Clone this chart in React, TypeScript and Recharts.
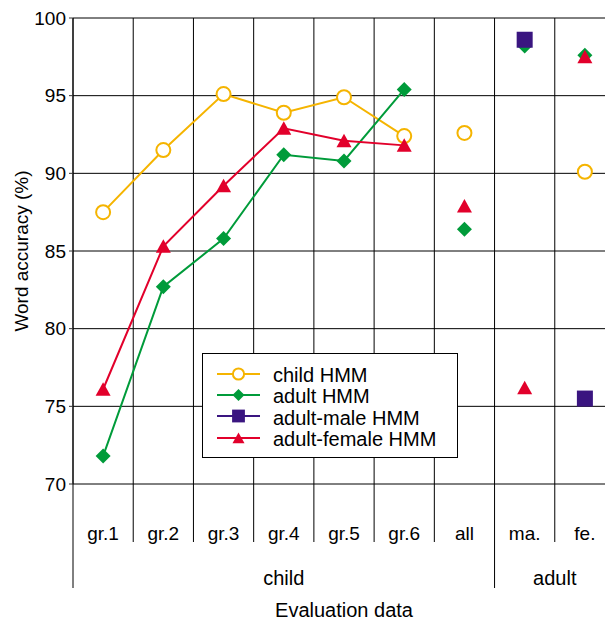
import React from 'react';
import { ComposedChart, Line, XAxis, YAxis, CartesianGrid, Legend, Label } from 'recharts';

const categories = ['gr.1', 'gr.2', 'gr.3', 'gr.4', 'gr.5', 'gr.6', 'all', 'ma.', 'fe.'];
const groups = [
  { name: 'child', size: 7 },
  { name: 'adult', size: 2 },
];
const connectedCount = 6;
const yTicks = [70, 75, 80, 85, 90, 95, 100];

const childHMM = [87.5, 91.5, 95.1, 93.9, 94.9, 92.4, 92.6, null, 90.1];
const adultHMM = [71.8, 82.7, 85.8, 91.2, 90.8, 95.4, 86.4, 98.2, 97.6];
const adultMaleHMM = [null, null, null, null, null, null, null, 98.6, 75.5];
const adultFemaleHMM = [76.1, 85.3, 89.2, 92.9, 92.1, 91.8, 87.9, 76.2, 97.5];

const series = [
  { key: 'child', name: 'child HMM', color: '#F5B400', shape: 'circle', values: childHMM },
  { key: 'adult', name: 'adult HMM', color: '#009B3A', shape: 'diamond', values: adultHMM },
  { key: 'male', name: 'adult-male HMM', color: '#3A1580', shape: 'square', values: adultMaleHMM },
  { key: 'female', name: 'adult-female HMM', color: '#E2002B', shape: 'triangle', values: adultFemaleHMM },
];

const data = categories.map((cat, i) => {
  const row: any = { cat };
  series.forEach((s) => {
    const v = s.values[i];
    row[s.key + 'Line'] = i < connectedCount ? v : null;
    row[s.key + 'Pt'] = i >= connectedCount ? v : null;
  });
  return row;
});

const W = 620;
const H = 622;
const M = { top: 18, right: 5, left: 0, bottom: 0 };
const Y_W = 73;
const X_H = 138;
const PLOT_W = W - M.left - M.right - Y_W;
const BAND = PLOT_W / categories.length;
const FONT = '"Liberation Sans", Arial, Helvetica, sans-serif';
const FS = 19;
const FS_T = 20;

function Marker({ shape, color, cx, cy, s = 1 }: any) {
  if (shape === 'circle') {
    return <circle cx={cx} cy={cy} r={7 * s} fill="#fff" stroke={color} strokeWidth={2} />;
  }
  if (shape === 'diamond') {
    const h = 7.5 * s;
    return <path d={`M${cx},${cy - h}L${cx + h},${cy}L${cx},${cy + h}L${cx - h},${cy}Z`} fill={color} />;
  }
  if (shape === 'square') {
    const h = 8 * s;
    return <rect x={cx - h} y={cy - h} width={2 * h} height={2 * h} fill={color} />;
  }
  const w = 7.5 * s;
  return <path d={`M${cx},${cy - 7 * s}L${cx + w},${cy + 6.5 * s}L${cx - w},${cy + 6.5 * s}Z`} fill={color} />;
}

const makeDot = (shape: string, color: string) => (props: any) => {
  const { cx, cy, index, value } = props;
  if (value == null || cx == null || cy == null || Number.isNaN(cy)) return <g key={`e${index}`} />;
  return (
    <g key={`d${index}`}>
      <Marker shape={shape} color={color} cx={cx} cy={cy} />
    </g>
  );
};

const groupStarts: Record<number, { name: string; size: number }> = {};
{
  let idx = 0;
  groups.forEach((g) => {
    groupStarts[idx] = g;
    idx += g.size;
  });
}

function CategoryTick(props: any) {
  const { x, y, payload, index } = props;
  const left = x - BAND / 2;
  const g = groupStarts[index];
  const isLast = index === categories.length - 1;
  return (
    <g>
      <text x={x} y={y + 56} textAnchor="middle" fontSize={FS} fontFamily={FONT} fill="#000">
        {payload.value}
      </text>
      {g ? (
        <>
          <line x1={left} x2={left} y1={y} y2={y + 104} stroke="#000" strokeWidth={1} />
          <text x={left + (g.size * BAND) / 2} y={y + 101} textAnchor="middle" fontSize={FS_T} fontFamily={FONT} fill="#000">
            {g.name}
          </text>
        </>
      ) : (
        <line x1={left} x2={left} y1={y} y2={y + 58} stroke="#000" strokeWidth={1} />
      )}
      {isLast && <line x1={x + BAND / 2} x2={x + BAND / 2} y1={y} y2={y + 104} stroke="#000" strokeWidth={1} />}
    </g>
  );
}

function LegendBox() {
  return (
    <div
      style={{
        border: '1px solid #000',
        background: '#fff',
        boxSizing: 'border-box',
        width: 256,
        height: 105,
        padding: '11px 0 0 14px',
        fontFamily: FONT,
        fontSize: 20,
        lineHeight: '21.3px',
        color: '#000',
      }}
    >
      {series.map((s) => (
        <div key={s.key} style={{ display: 'flex', alignItems: 'center', height: 21.3, whiteSpace: 'nowrap' }}>
          <svg width={44} height={18} style={{ marginRight: 12, position: 'relative', top: -2, overflow: 'visible' }}>
            <line x1={0} x2={43} y1={9} y2={9} stroke={s.color} strokeWidth={2} />
            <Marker shape={s.shape} color={s.color} cx={21.5} cy={9} s={0.8} />
          </svg>
          <span>{s.name}</span>
        </div>
      ))}
    </div>
  );
}

export default function App() {
  return (
    <div style={{ position: 'fixed', left: 0, top: 0, width: 605, height: 622, overflow: 'hidden', background: '#fff' }}>
      <ComposedChart width={W} height={H} data={data} margin={M}>
        <CartesianGrid
          stroke="#000"
          strokeWidth={1}
          verticalCoordinatesGenerator={({ offset }: any) =>
            Array.from({ length: categories.length + 1 }, (_, i) => offset.left + (i * offset.width) / categories.length)
          }
        />
        <XAxis
          dataKey="cat"
          scale="band"
          height={X_H}
          axisLine={false}
          tickLine={false}
          tickSize={0}
          tickMargin={0}
          interval={0}
          tick={<CategoryTick />}
        >
          <Label
            content={(p: any) => {
              const vb = p.viewBox || {};
              return (
                <text x={vb.x + vb.width / 2} y={vb.y + 133} textAnchor="middle" fontSize={FS_T} fontFamily={FONT} fill="#000">
                  Evaluation data
                </text>
              );
            }}
          />
        </XAxis>
        <YAxis
          width={Y_W}
          domain={[70, 100]}
          ticks={yTicks}
          type="number"
          allowDataOverflow
          axisLine={{ stroke: '#000' }}
          tickLine={{ stroke: '#333' }}
          tickSize={4}
          tickMargin={3}
          tick={{ fontSize: FS, fontFamily: FONT, fill: '#000' }}
        >
          <Label
            content={(p: any) => {
              const vb = p.viewBox || {};
              return (
                <text
                  transform={`translate(${vb.x + 28}, ${vb.y + vb.height / 2}) rotate(-90)`}
                  textAnchor="middle"
                  fontSize={FS}
                  fontFamily={FONT}
                  fill="#000"
                >
                  Word accuracy (%)
                </text>
              );
            }}
          />
        </YAxis>
        <Legend
          layout="horizontal"
          verticalAlign="middle"
          align="center"
          wrapperStyle={{ left: 202, top: 353, width: 256, height: 105 }}
          content={() => <LegendBox />}
        />
        {series.map((s) => (
          <Line
            key={s.key + 'L'}
            dataKey={s.key + 'Line'}
            stroke={s.color}
            strokeWidth={2}
            dot={makeDot(s.shape, s.color)}
            activeDot={false}
            isAnimationActive={false}
            connectNulls={false}
            legendType="none"
          />
        ))}
        {series.map((s) => (
          <Line
            key={s.key + 'P'}
            dataKey={s.key + 'Pt'}
            stroke="none"
            strokeWidth={0}
            dot={makeDot(s.shape, s.color)}
            activeDot={false}
            isAnimationActive={false}
            legendType="none"
          />
        ))}
      </ComposedChart>
    </div>
  );
}
